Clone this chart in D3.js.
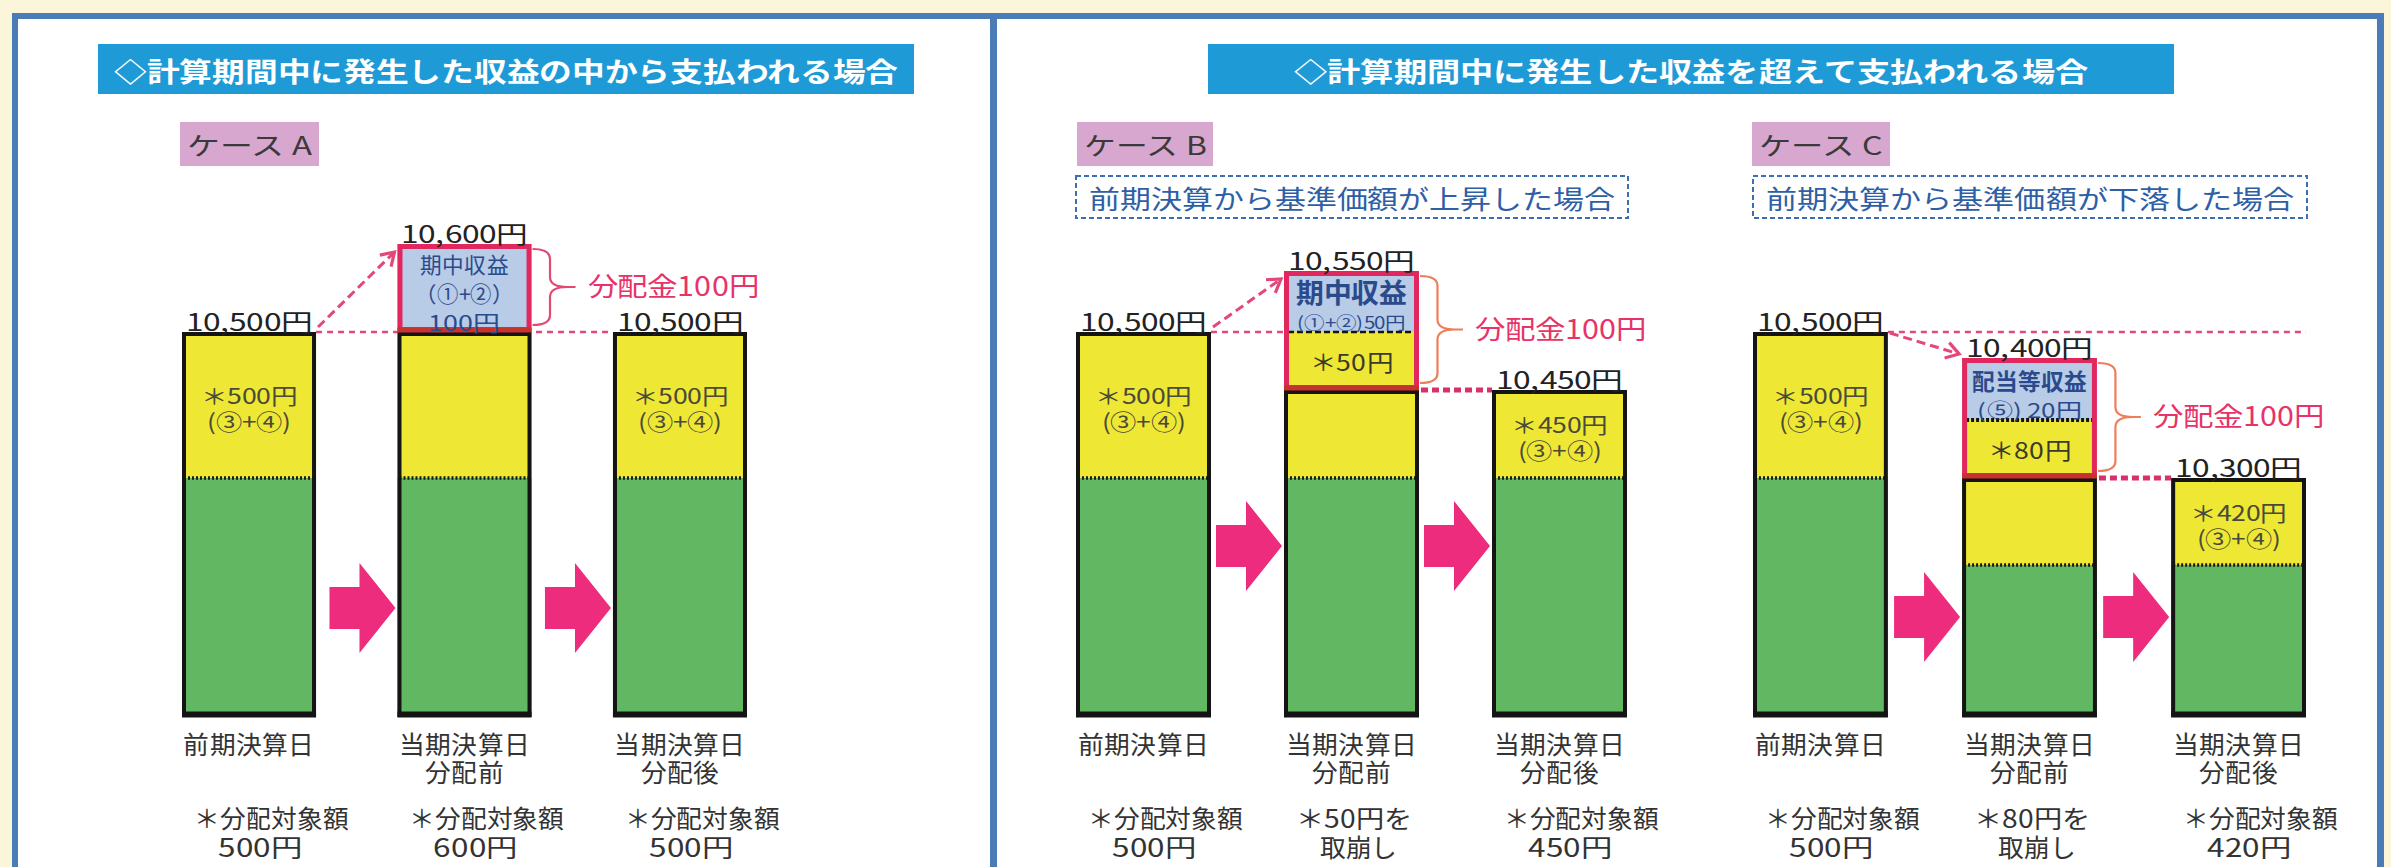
<!DOCTYPE html>
<html lang="ja"><head><meta charset="utf-8">
<script src="https://cdn.jsdelivr.net/npm/d3@7"></script>
<style>
@font-face{font-family:"JPTight";font-weight:400;src:local("Noto Sans CJK JP Regular"),local("NotoSansCJKjp-Regular"),local("Noto Sans CJK JP");ascent-override:89%;descent-override:1.8%;line-gap-override:0%;}
@font-face{font-family:"JPTight";font-weight:700;src:local("Noto Sans CJK JP Bold"),local("NotoSansCJKjp-Bold");ascent-override:89%;descent-override:1.8%;line-gap-override:0%;}
body{margin:0;background:#fff;}
svg{display:block;}
text{font-family:"JPTight","Noto Sans CJK JP","Noto Sans",sans-serif;}
</style>
</head><body>
<svg id="c" width="2391" height="867"></svg>
<script>
// ===================== DATA =====================
const sectionTitles = ["◇計算期間中に発生した収益の中から支払われる場合", "◇計算期間中に発生した収益を超えて支払われる場合"];
const caseLabels = ["ケース A", "ケース B", "ケース C"];
const caseNotes = ["", "前期決算から基準価額が上昇した場合", "前期決算から基準価額が下落した場合"];
const stageKeys = ["prev", "before", "after"];
const stageLabels = [["前期決算日"], ["当期決算日", "分配前"], ["当期決算日", "分配後"]];
// 基準価額 (NAV) for each stage
const navA = [10500, 10600, 10500];
const navB = [10500, 10550, 10450];
const navC = [10500, 10400, 10300];
// 元本部分 (green) for each stage
const principalA = [10000, 10000, 10000];
const principalB = [10000, 10000, 10000];
const principalC = [10000, 9880, 9880];
// 期中収益 / 配当等収益 in the pre-distribution bar, and 分配金
const incomeInPeriod = [100, 50, 20];
const distribution = [100, 100, 100];
const incomeTitles = [["期中収益", "（①+②）"], ["期中収益", "(①+②)"], ["配当等収益", "(⑤) "]];
const reserveTag = "(③+④)";

// ===================== LAYOUT =====================
const layout = [
  {band: [182, 747], pad: 0.378, yRange: [717, 478, 332, 244], arrowY: 608,
   caseBox: [180, 122, 139, 44], noteBox: null, braceCol: "#e34a72", sep: null, incomeStyle: "A"},
  {band: [1076, 1627], pad: 0.351, yRange: [717, 478, 390, 332, 271], arrowY: 546,
   caseBox: [1077, 122, 136, 44], noteBox: [1076, 176, 552, 42], braceCol: "#ef7d5a", sep: "dash", incomeStyle: "B"},
  {band: [1753, 2306], pad: 0.355, yRange: [717, 565, 478, 478, 420, 358, 332], arrowY: 617,
   caseBox: [1752, 122, 138, 44], noteBox: [1753, 176, 554, 42], braceCol: "#ef7d5a", sep: "dot", incomeStyle: "C"}
];
const banners = [{x: 98, y: 44, w: 816, h: 50, len: 784}, {x: 1208, y: 44, w: 966, h: 50, len: 794}];

const COL = {
  bg: "#fbf5da", frame: "#4a7db7", banner: "#1e9ad6", caseBox: "#d8a7cf",
  yellow: "#eee733", green: "#62b762", blue: "#b8cbe7", red: "#e0285f", redDark: "#c8322e",
  pinkArrow: "#ee2c7e", dashPink: "#e4477a", text: "#333333", blueText: "#2b4a8c",
  noteText: "#2e5fa6", noteLine: "#3f6fb3", braceText: "#e8336a"
};

const cases = [
  {nav: navA, principal: principalA},
  {nav: navB, principal: principalB},
  {nav: navC, principal: principalC}
].map((c, i) => Object.assign(c, {label: caseLabels[i], note: caseNotes[i],
  income: incomeInPeriod[i], dist: distribution[i], incomeTitle: incomeTitles[i]}));

// ===================== HELPERS =====================
const svg = d3.select("#c");
const W = 2391, H = 867;
function estW(str, fs) {
  let w = 0;
  for (const ch of str) {
    if (/[0-9]/.test(ch)) w += 0.78;
    else if (/[,.]/.test(ch)) w += 0.35;
    else if (/[()]/.test(ch)) w += 0.62;
    else if (ch === "+") w += 0.5;
    else if (ch === " ") w += 0.35;
    else if (/[A-Za-z]/.test(ch)) w += 0.7;
    else w += 1.03;
  }
  return w * fs;
}
// lines: [{s, x, y, fs, fw, fill}] drawn as one text element with tspans
function multi(g, lines, o) {
  const t = g.append("text").attr("text-anchor", o.anchor || "middle").attr("dominant-baseline", "central")
    .attr("fill", o.fill || COL.text);
  lines.forEach(l => {
    t.append("tspan").attr("x", l.x).attr("y", l.y).attr("font-size", l.fs)
      .attr("font-weight", l.fw || 400).attr("fill", l.fill || o.fill || COL.text)
      .attr("textLength", l.len || estW(l.s, l.fs)).attr("lengthAdjust", "spacingAndGlyphs")
      .text(l.s);
  });
  return t;
}
function txt(g, s, x, y, o) {
  return multi(g, [{s, x, y, fs: o.fs, fw: o.fw, len: o.len, fill: o.fill}], o);
}
const fmt = d3.format(",");

function draw() {
// ===================== FRAME =====================
svg.append("rect").attr("width", W).attr("height", H).attr("fill", COL.bg);
svg.append("rect").attr("x", 12).attr("y", 13).attr("width", 2372).attr("height", H).attr("fill", "#ffffff");
[[12, 13, 2372, 6], [12, 13, 6, H], [2377, 13, 7, H], [990, 13, 7, H]].forEach(r =>
  svg.append("rect").attr("x", r[0]).attr("y", r[1]).attr("width", r[2]).attr("height", r[3]).attr("fill", COL.frame));

banners.forEach((b, i) => {
  svg.append("rect").attr("x", b.x).attr("y", b.y).attr("width", b.w).attr("height", b.h).attr("fill", COL.banner);
  txt(svg, sectionTitles[i], b.x + b.w / 2, b.y + b.h / 2 + 1, {fs: 27, fill: "#ffffff", fw: 700, len: b.len});
});

// ===================== PANELS =====================
cases.forEach((c, ci) => {
  const L = layout[ci];
  const g = svg.append("g");

  // case label
  const cb = L.caseBox;
  g.append("rect").attr("x", cb[0]).attr("y", cb[1]).attr("width", cb[2]).attr("height", cb[3]).attr("fill", COL.caseBox);
  txt(g, c.label, cb[0] + cb[2] / 2, cb[1] + cb[3] / 2, {fs: 25, len: cb[2] - 14, fill: "#3a3a3a"});
  if (L.noteBox) {
    const nb = L.noteBox;
    g.append("rect").attr("x", nb[0]).attr("y", nb[1]).attr("width", nb[2]).attr("height", nb[3])
      .attr("fill", "#ffffff").attr("stroke", COL.noteLine).attr("stroke-width", 2).attr("stroke-dasharray", "5,3");
    txt(g, c.note, nb[0] + nb[2] / 2, nb[1] + nb[3] / 2, {fs: 26, len: nb[2] - 26, fill: COL.noteText});
  }

  // scales
  const x = d3.scaleBand().domain(stageKeys).range(L.band).paddingInner(L.pad).paddingOuter(0);
  const bw = x.bandwidth();
  const dom = Array.from(new Set([0, ...c.principal, ...c.nav, c.nav[1] - c.income, c.nav[1] - c.dist])).sort((a, b) => a - b);
  const y = d3.scaleLinear().domain(dom).range(L.yRange);

  const xs = stageKeys.map(k => x(k));
  const nav = c.nav, pr = c.principal;

  // horizontal reference lines (behind)
  let endX;
  if (nav[2] === nav[0]) endX = xs[2];
  else if (nav[1] > nav[0]) endX = xs[1];
  else endX = xs[2] + bw;
  g.append("line").attr("x1", xs[0] + bw).attr("x2", endX).attr("y1", y(nav[0])).attr("y2", y(nav[0]))
    .attr("stroke", COL.dashPink).attr("stroke-width", 2.5).attr("stroke-dasharray", "6,5");
  if (nav[2] !== nav[0]) {
    g.append("line").attr("x1", xs[1] + bw + 2).attr("x2", xs[2]).attr("y1", y(nav[2])).attr("y2", y(nav[2]))
      .attr("stroke", "#d8306c").attr("stroke-width", 5).attr("stroke-dasharray", "7,4");
  }

  stageKeys.forEach((k, i) => {
    const x0 = xs[i], x1 = x0 + bw, cx = x0 + bw / 2;
    const isPre = i === 1;
    const yellowTop = isPre ? nav[i] - c.income : nav[i];
    g.append("rect").attr("x", x0).attr("width", bw).attr("y", y(pr[i])).attr("height", y(0) - y(pr[i])).attr("fill", COL.green);
    g.append("rect").attr("x", x0).attr("width", bw).attr("y", y(yellowTop)).attr("height", y(pr[i]) - y(yellowTop)).attr("fill", COL.yellow);
    if (isPre) {
      g.append("rect").attr("x", x0).attr("width", bw).attr("y", y(nav[i])).attr("height", y(yellowTop) - y(nav[i])).attr("fill", COL.blue);
    }
    g.append("line").attr("x1", x0 + 2).attr("x2", x1 - 2).attr("y1", y(pr[i])).attr("y2", y(pr[i]))
      .attr("stroke", "#1a1a1a").attr("stroke-width", 3.5).attr("stroke-dasharray", "2,2");
    const oTop = isPre ? y(nav[i] - c.dist) : y(nav[i]);
    g.append("rect").attr("x", x0 + 2).attr("y", oTop + 2).attr("width", bw - 4).attr("height", y(0) - oTop - 4)
      .attr("fill", "none").attr("stroke", "#141414").attr("stroke-width", 4);
    g.append("line").attr("x1", x0).attr("x2", x1).attr("y1", y(0) - 2.5).attr("y2", y(0) - 2.5)
      .attr("stroke", "#141414").attr("stroke-width", 6);

    if (isPre) {
      const rTop = y(nav[i]), rBot = y(nav[i] - c.dist);
      if (c.income < c.dist) {
        const ys = y(nav[i] - c.income);
        g.append("line").attr("x1", x0 + 4).attr("x2", x1 - 4).attr("y1", ys).attr("y2", ys)
          .attr("stroke", "#151515").attr("stroke-width", L.sep === "dot" ? 4 : 2.5)
          .attr("stroke-dasharray", L.sep === "dot" ? "3,2" : "6,3");
      }
      g.append("rect").attr("x", x0 + 2.5).attr("y", rTop + 2.5).attr("width", bw - 5).attr("height", rBot - rTop - 5)
        .attr("fill", "none").attr("stroke", COL.red).attr("stroke-width", 5);
      g.append("line").attr("x1", x0).attr("x2", x1).attr("y1", rBot - 2).attr("y2", rBot - 2)
        .attr("stroke", COL.redDark).attr("stroke-width", 5);

      const bTop = rTop;
      let lines;
      if (L.incomeStyle === "A") {
        lines = [c.incomeTitle[0], c.incomeTitle[1], `${c.income}円`].map((s, j) =>
          ({s, x: cx, y: bTop + 19 + j * 29, fs: 21.5}));
      } else if (L.incomeStyle === "B") {
        lines = [{s: c.incomeTitle[0], x: cx, y: bTop + 20, fs: 27, fw: 700},
                 {s: c.incomeTitle[1] + `${c.income}円`, x: cx, y: bTop + 50, fs: 17}];
      } else {
        lines = [{s: c.incomeTitle[0], x: cx, y: bTop + 22, fs: 22.5, fw: 700},
                 {s: c.incomeTitle[1] + `${c.income}円`, x: cx, y: bTop + 51, fs: 20}];
      }
      multi(g, lines, {fill: COL.blueText});
      if (c.income < c.dist) {
        const my = (y(nav[i] - c.income) + rBot) / 2;
        txt(g, `＊${c.dist - c.income}円`, cx, my, {fs: 23, fill: "#3a3a2a"});
      }

      const bx0 = x1 + 1, bx1 = x1 + 44, by0 = rTop + 5, by1 = rBot - 7, bm = (by0 + by1) / 2;
      const r = 10, xm = (bx0 + bx1) / 2 - 4;
      const p = `M${bx0},${by0} Q${xm},${by0} ${xm},${by0 + r} L${xm},${bm - r} Q${xm},${bm} ${bx1 - 8},${bm} L${bx1},${bm}`
        + ` M${bx1 - 8},${bm} Q${xm},${bm} ${xm},${bm + r} L${xm},${by1 - r} Q${xm},${by1} ${bx0},${by1}`;
      g.append("path").attr("d", p).attr("fill", "none").attr("stroke", L.braceCol).attr("stroke-width", 2.2);
      txt(g, `分配金${c.dist}円`, bx1 + 12, bm - 3, {fs: 26.5, anchor: "start", fill: COL.braceText});
    } else {
      const my = (y(nav[i]) + y(pr[i])) / 2;
      multi(g, [{s: `＊${nav[i] - pr[i]}円`, x: cx, y: my - 11, fs: 22},
                {s: reserveTag, x: cx, y: my + 15, fs: 22}], {fill: "#4a4a3a"});
    }

    txt(g, `${fmt(nav[i])}円`, cx, y(nav[i]) - 12, {fs: 24, fill: "#222"});

    multi(g, stageLabels[i].map((s, j) => ({s, x: cx, y: 742 + j * 28, fs: 25.5})), {});
    let foot;
    if (isPre && c.income < c.dist) foot = [`＊${c.dist - c.income}円を`, "取崩し"];
    else foot = ["＊分配対象額", `${nav[i] - pr[i]}円`];
    multi(g, [{s: foot[0], x: x0 + 12, y: 817, fs: 25}, {s: foot[1], x: x0 + 36, y: 846, fs: 25}], {anchor: "start"});
  });

  const up = nav[1] > nav[0];
  const sx = xs[0] + bw + 2, sy = y(nav[0]) + (up ? -5 : 1);
  const ex = xs[1] - 3, ey = y(nav[1]) + (up ? 8 : -4);
  g.append("line").attr("x1", sx).attr("y1", sy).attr("x2", ex).attr("y2", ey)
    .attr("stroke", COL.dashPink).attr("stroke-width", 3).attr("stroke-dasharray", "9,5");
  const ang = Math.atan2(ey - sy, ex - sx), ah = 15;
  const hp = [ang + Math.PI * 0.82, ang - Math.PI * 0.82].map(a => [ex + ah * Math.cos(a), ey + ah * Math.sin(a)]);
  g.append("path").attr("d", `M${hp[0][0]},${hp[0][1]} L${ex},${ey} L${hp[1][0]},${hp[1][1]}`)
    .attr("fill", "none").attr("stroke", COL.dashPink).attr("stroke-width", 3.2);

  [0, 1].forEach(i => {
    const e = xs[i + 1] - 2, s = e - 66, m = s + 30, ay = L.arrowY;
    g.append("path").attr("d", `M${s},${ay - 21} L${m},${ay - 21} L${m},${ay - 45} L${e},${ay} L${m},${ay + 45} L${m},${ay + 21} L${s},${ay + 21} Z`)
      .attr("fill", COL.pinkArrow);
  });
});
}
if (document.fonts && document.fonts.load) {
  Promise.all([document.fonts.load('25px "JPTight"', "計"), document.fonts.load('bold 25px "JPTight"', "計")])
    .catch(() => {}).then(draw);
} else draw();
</script>
</body></html>
